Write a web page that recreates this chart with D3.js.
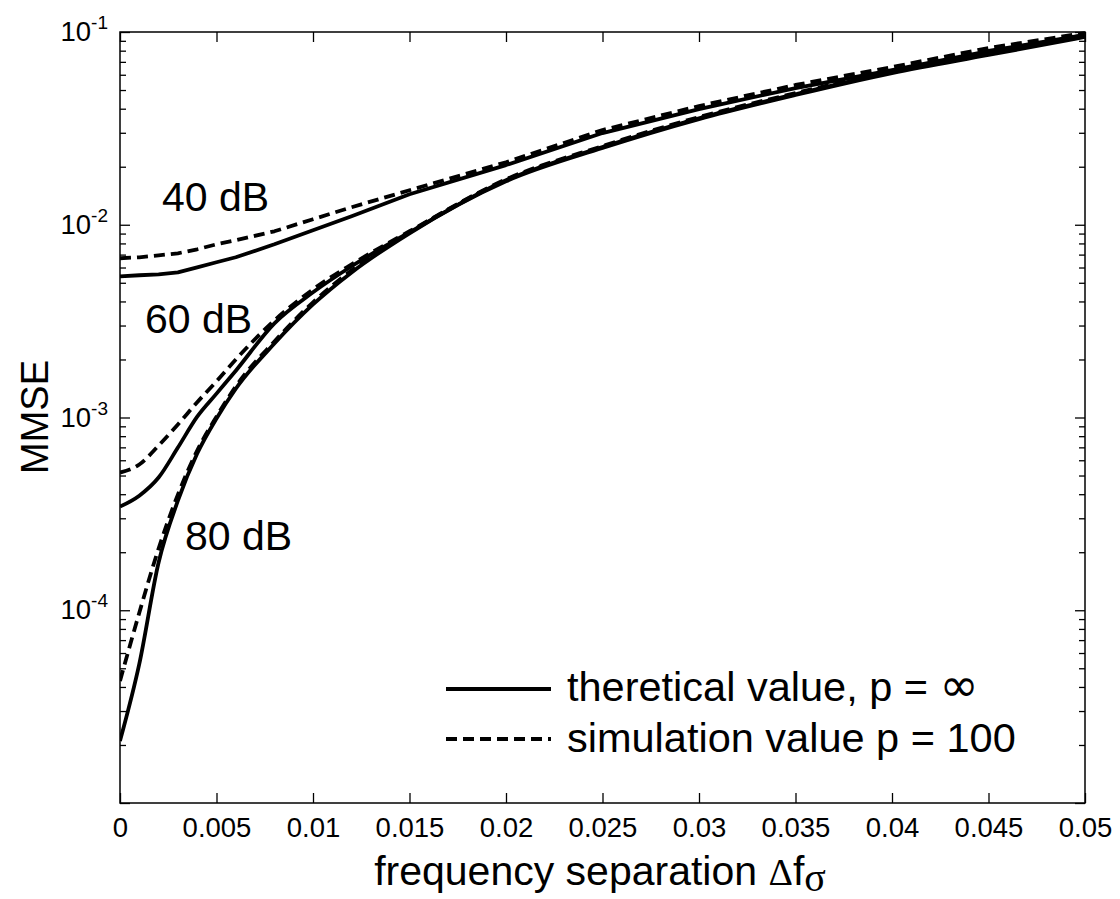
<!DOCTYPE html>
<html>
<head>
<meta charset="utf-8">
<script src="https://cdn.jsdelivr.net/npm/d3@7"></script>
<style>
  html, body { margin: 0; padding: 0; background: #fff; }
  svg { display: block; }
  text { font-family: "Liberation Sans", Arial, sans-serif; fill: #000; }
</style>
</head>
<body>
<svg id="chart" width="1120" height="899"></svg>
<script>
// ---------------- data ----------------
const freqSep = [0, 0.001, 0.002, 0.003, 0.004, 0.005, 0.006, 0.008, 0.010, 0.012, 0.015, 0.02, 0.025, 0.03, 0.035, 0.04, 0.045, 0.05];
const theory40 = [5.40e-3, 5.47e-3, 5.53e-3, 5.66e-3, 6.01e-3, 6.39e-3, 6.78e-3, 7.92e-3, 9.36e-3, 1.107e-2, 1.44e-2, 2.04e-2, 2.99e-2, 3.98e-2, 5.12e-2, 6.35e-2, 7.97e-2, 9.65e-2];
const sim40    = [6.70e-3, 6.78e-3, 6.94e-3, 7.11e-3, 7.46e-3, 7.92e-3, 8.31e-3, 9.25e-3, 1.068e-2, 1.233e-2, 1.51e-2, 2.11e-2, 3.10e-2, 4.13e-2, 5.31e-2, 6.58e-2, 8.26e-2, 9.88e-2];
const theory60 = [3.45e-4, 3.93e-4, 4.88e-4, 6.98e-4, 1.01e-3, 1.33e-3, 1.75e-3, 3.08e-3, 4.46e-3, 6.09e-3, 9.14e-3, 1.70e-2, 2.53e-2, 3.57e-2, 4.76e-2, 6.20e-2, 7.69e-2, 9.53e-2];
const sim60    = [5.18e-4, 5.70e-4, 7.15e-4, 9.20e-4, 1.20e-3, 1.54e-3, 2.00e-3, 3.19e-3, 4.62e-3, 6.23e-3, 9.25e-3, 1.72e-2, 2.56e-2, 3.62e-2, 4.82e-2, 6.27e-2, 7.78e-2, 9.65e-2];
const theory80 = [2.10e-5, 5.27e-5, 1.77e-4, 3.70e-4, 6.50e-4, 9.88e-4, 1.41e-3, 2.42e-3, 3.86e-3, 5.66e-3, 9.03e-3, 1.68e-2, 2.50e-2, 3.53e-2, 4.71e-2, 6.12e-2, 7.60e-2, 9.42e-2];
const sim80    = [4.30e-5, 9.71e-5, 2.09e-4, 3.98e-4, 6.74e-4, 1.01e-3, 1.45e-3, 2.48e-3, 3.96e-3, 5.80e-3, 9.14e-3, 1.70e-2, 2.53e-2, 3.57e-2, 4.76e-2, 6.20e-2, 7.69e-2, 9.53e-2];

const xTickValues = [0, 0.005, 0.01, 0.015, 0.02, 0.025, 0.03, 0.035, 0.04, 0.045, 0.05];
const xTickLabels = ["0", "0.005", "0.01", "0.015", "0.02", "0.025", "0.03", "0.035", "0.04", "0.045", "0.05"];
const yMajorValues = [1e-5, 1e-4, 1e-3, 1e-2, 1e-1];
const yLabelValues = [1e-4, 1e-3, 1e-2, 1e-1];
const yLabelExponents = ["-4", "-3", "-2", "-1"];
const snrLabels = ["40 dB", "60 dB", "80 dB"];
const legendLabels = ["theretical value, p = ", "simulation value p = 100"];
const legendSymbols = ["\u221E", ""];

// ---------------- layout ----------------
const L = 120, R = 1085, T = 32, B = 803;
const svg = d3.select("#chart");

const x = d3.scaleLinear().domain([0, 0.05]).range([L, R]);
const y = d3.scaleLog().domain([1e-5, 1e-1]).range([B, T]);

// minor log ticks
const yMinorValues = y.ticks().filter(v => !yMajorValues.some(m => Math.abs(m - v) / m < 1e-9));

// ---------------- curves ----------------
const series = [
  { vals: theory40, dash: null, curve: d3.curveLinear },
  { vals: sim40, dash: "11,6", curve: d3.curveLinear },
  { vals: theory60, dash: null, curve: d3.curveMonotoneX },
  { vals: sim60, dash: "11,6", curve: d3.curveMonotoneX },
  { vals: theory80, dash: null, curve: d3.curveMonotoneX },
  { vals: sim80, dash: "11,6", curve: d3.curveMonotoneX }
];

svg.append("defs").append("clipPath").attr("id", "plotclip")
  .append("rect").attr("x", L).attr("y", T - 4).attr("width", R - L + 4).attr("height", B - T + 4);

const gLines = svg.append("g").attr("clip-path", "url(#plotclip)");
series.forEach(s => {
  const line = d3.line().curve(s.curve).x((d, i) => x(freqSep[i])).y(d => y(d));
  gLines.append("path")
    .attr("d", line(s.vals))
    .attr("fill", "none")
    .attr("stroke", "#000")
    .attr("stroke-width", 3.8)
    .attr("stroke-linejoin", "round")
    .attr("stroke-dasharray", s.dash);
});

// ---------------- axes ----------------
function styleAxis(g) {
  g.selectAll(".domain").remove();
  g.selectAll(".tick line").attr("stroke", "#000").attr("stroke-width", 1.3);
}

// bottom
const gBottom = svg.append("g").attr("transform", `translate(0,${B})`)
  .call(d3.axisBottom(x).tickValues(xTickValues).tickSize(-10).tickSizeOuter(0).tickPadding(14)
    .tickFormat((d, i) => xTickLabels[i]));
styleAxis(gBottom);
gBottom.selectAll(".tick text").attr("font-size", 27.5).attr("font-family", "Liberation Sans, Arial, sans-serif").attr("fill", "#000");

// top
const gTop = svg.append("g").attr("transform", `translate(0,${T})`)
  .call(d3.axisTop(x).tickValues(xTickValues).tickSize(-10).tickSizeOuter(0).tickFormat(""));
styleAxis(gTop);

// left major/minor
const gLeftMaj = svg.append("g").attr("transform", `translate(${L},0)`)
  .call(d3.axisLeft(y).tickValues(yMajorValues).tickSize(-10).tickSizeOuter(0).tickFormat(""));
styleAxis(gLeftMaj);
const gLeftMin = svg.append("g").attr("transform", `translate(${L},0)`)
  .call(d3.axisLeft(y).tickValues(yMinorValues).tickSize(-6).tickSizeOuter(0).tickFormat(""));
styleAxis(gLeftMin);

// right major/minor
const gRightMaj = svg.append("g").attr("transform", `translate(${R},0)`)
  .call(d3.axisRight(y).tickValues(yMajorValues).tickSize(-10).tickSizeOuter(0).tickFormat(""));
styleAxis(gRightMaj);
const gRightMin = svg.append("g").attr("transform", `translate(${R},0)`)
  .call(d3.axisRight(y).tickValues(yMinorValues).tickSize(-6).tickSizeOuter(0).tickFormat(""));
styleAxis(gRightMin);

// frame
svg.append("rect").attr("x", L).attr("y", T).attr("width", R - L).attr("height", B - T)
  .attr("fill", "none").attr("stroke", "#000").attr("stroke-width", 1.5);

// y tick labels with superscripts
yLabelValues.forEach((v, i) => {
  const t = svg.append("text")
    .attr("x", 108).attr("y", y(v) + 9)
    .attr("text-anchor", "end");
  t.append("tspan").attr("font-size", 27.5).text("10");
  t.append("tspan").attr("font-size", 19).attr("dy", -12).text(yLabelExponents[i]);
});

// ---------------- titles ----------------
const xt = svg.append("text").attr("x", 600).attr("y", 885).attr("text-anchor", "middle").attr("font-size", 41);
xt.append("tspan").text("frequency separation ");
xt.append("tspan").attr("font-family", "Liberation Serif, Times New Roman, serif").attr("font-size", 38).text("\u0394");
xt.append("tspan").text("f");
xt.append("tspan").attr("font-family", "Liberation Serif, Times New Roman, serif").attr("font-size", 40).attr("dy", 6).text("\u03C3");

svg.append("text")
  .attr("transform", "translate(48,417) rotate(-90)")
  .attr("text-anchor", "middle")
  .attr("font-size", 38)
  .text("MMSE");

// ---------------- SNR annotations ----------------
const snrPos = [[162, 211], [145, 333], [185, 550]];
snrLabels.forEach((s, i) => {
  svg.append("text").attr("x", snrPos[i][0]).attr("y", snrPos[i][1]).attr("font-size", 41).text(s);
});

// ---------------- legend ----------------
const legendRows = [{ dash: null, ly: 689, ty: 701 }, { dash: "11,6", ly: 739, ty: 752 }];
legendRows.forEach((r, i) => {
  svg.append("line").attr("x1", 446).attr("x2", 551).attr("y1", r.ly).attr("y2", r.ly)
    .attr("stroke", "#000").attr("stroke-width", 3.8).attr("stroke-dasharray", r.dash);
  const t = svg.append("text").attr("x", 567).attr("y", r.ty).attr("font-size", 41.5);
  t.append("tspan").text(legendLabels[i]);
  if (legendSymbols[i]) {
    t.append("tspan").attr("font-family", "DejaVu Sans, sans-serif").attr("font-size", 47).text(legendSymbols[i]);
  }
});
</script>
</body>
</html>
